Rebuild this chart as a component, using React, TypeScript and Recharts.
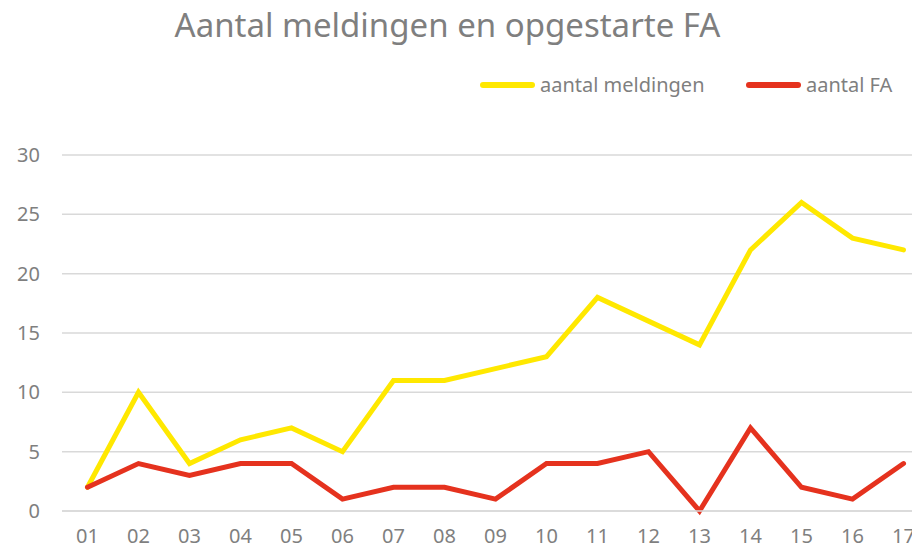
import React from 'react'
import { LineChart, Line, CartesianGrid, XAxis, YAxis } from 'recharts';

const weeks = ['01', '02', '03', '04', '05', '06', '07', '08', '09', '10', '11', '12', '13', '14', '15', '16', '17'];
const meldingen = [2, 10, 4, 6, 7, 5, 11, 11, 12, 13, 18, 16, 14, 22, 26, 23, 22];
const fa = [2, 4, 3, 4, 4, 1, 2, 2, 1, 4, 4, 5, 0, 7, 2, 1, 4];
const yTicks = [0, 5, 10, 15, 20, 25, 30];

const YELLOW = '#ffe800';
const RED = '#e5321e';
const GREY = '#7f7f7f';
const FONT = '"Noto Sans", sans-serif';

const data = weeks.map((w, i) => ({ week: w, meldingen: meldingen[i], fa: fa[i] }));

const legendItems = [
    { label: 'aantal meldingen', color: YELLOW, left: 480 },
    { label: 'aantal FA', color: RED, left: 746 },
];

const App = () => {
    return (
        <div style={{ position: 'absolute', left: 0, top: 0, width: 912, height: 550, overflow: 'hidden', background: '#fff' }}>
            <div style={{ position: 'absolute', top: 2, left: 0, width: 895, textAlign: 'center', fontFamily: FONT, fontSize: 33, color: GREY, whiteSpace: 'nowrap' }}>
                Aantal meldingen en opgestarte FA
            </div>
            {legendItems.map(it => (
                <div key={it.label} style={{ position: 'absolute', top: 71, left: it.left, display: 'flex', alignItems: 'center', whiteSpace: 'nowrap', fontFamily: FONT, fontSize: 20, color: GREY }}>
                    <span style={{ display: 'inline-block', width: 55, height: 6, borderRadius: 3, background: it.color, marginRight: 5 }} />
                    <span>{it.label}</span>
                </div>
            ))}
            <LineChart width={929} height={550} data={data} margin={{ top: 155, right: 0, bottom: 0, left: 0 }}>
                <CartesianGrid vertical={false} stroke="#d9d9d9" strokeWidth={1.5} />
                <XAxis
                    dataKey="week"
                    padding={{ left: 25.5, right: 25.5 }}
                    height={39}
                    tickLine={false}
                    tickSize={0}
                    tickMargin={18}
                    axisLine={{ stroke: '#d9d9d9', strokeWidth: 1.5 }}
                    tick={{ fill: GREY, fontSize: 20, fontFamily: FONT }}
                    interval={0}
                />
                <YAxis
                    width={62}
                    domain={[0, 30]}
                    ticks={yTicks}
                    axisLine={false}
                    tickLine={false}
                    tickSize={0}
                    tickMargin={22}
                    tick={{ fill: GREY, fontSize: 20, fontFamily: FONT }}
                />
                <Line type="linear" dataKey="meldingen" stroke={YELLOW} strokeWidth={5} dot={false} isAnimationActive={false} strokeLinecap="round" />
                <Line type="linear" dataKey="fa" stroke={RED} strokeWidth={5} dot={false} isAnimationActive={false} strokeLinecap="round" />
            </LineChart>
        </div>
    )
}

export default App
